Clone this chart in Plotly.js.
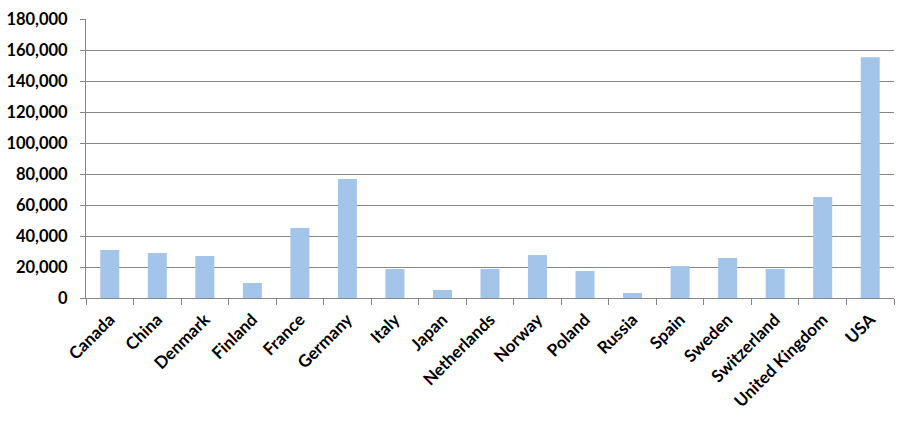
<!DOCTYPE html>
<html>
<head>
<meta charset="utf-8">
<script src="https://cdn.plot.ly/plotly-3.0.1.min.js"></script>
<style>html,body{margin:0;padding:0;background:#fff;}#chart{width:900px;height:421px;}</style>
</head>
<body>
<div id="chart"></div>
<script>
const countries = ["Canada","China","Denmark","Finland","France","Germany","Italy","Japan","Netherlands","Norway","Poland","Russia","Spain","Sweden","Switzerland","United Kingdom","USA"];
const values = [31000,29000,27100,9700,45100,76700,18700,5200,18700,27700,17400,3200,20600,25800,18700,65100,155300];
const yTicks = [0,20000,40000,60000,80000,100000,120000,140000,160000,180000];

const trace = {
  type: "bar",
  x: countries,
  y: values,
  marker: {color: "#A3C5EA"},
  hoverinfo: "skip"
};

const layout = {
  width: 900, height: 421,
  margin: {l: 86, r: 6, t: 19, b: 123},
  paper_bgcolor: "#fff", plot_bgcolor: "#fff",
  bargap: 0.6,
  showlegend: false,
  font: {family: "Lato, 'Open Sans', sans-serif", color: "#000"},
  xaxis: {
    type: "category",
    tickangle: -45,
    tickfont: {size: 17, family: "Lato", weight: "bold", color: "#000"},
    ticks: "outside", tickson: "boundaries", ticklen: 6, tickcolor: "#868686", tickwidth: 1,
    ticklabelstandoff: 4,
    showline: true, linecolor: "#868686", linewidth: 1,
    showgrid: false, fixedrange: true
  },
  yaxis: {
    range: [0, 180000],
    tickvals: yTicks,
    tickformat: ",",
    tickfont: {size: 16.5, family: "Lato", weight: "bold", color: "#000"},
    ticks: "outside", ticklen: 5, tickcolor: "#868686", tickwidth: 1,
    ticklabelstandoff: 9,
    showline: true, linecolor: "#868686", linewidth: 1,
    showgrid: true, gridcolor: "#868686", gridwidth: 1,
    zeroline: false, fixedrange: true
  }
};

Plotly.newPlot("chart", [trace], layout, {staticPlot: true, displayModeBar: false});
</script>
</body>
</html>
